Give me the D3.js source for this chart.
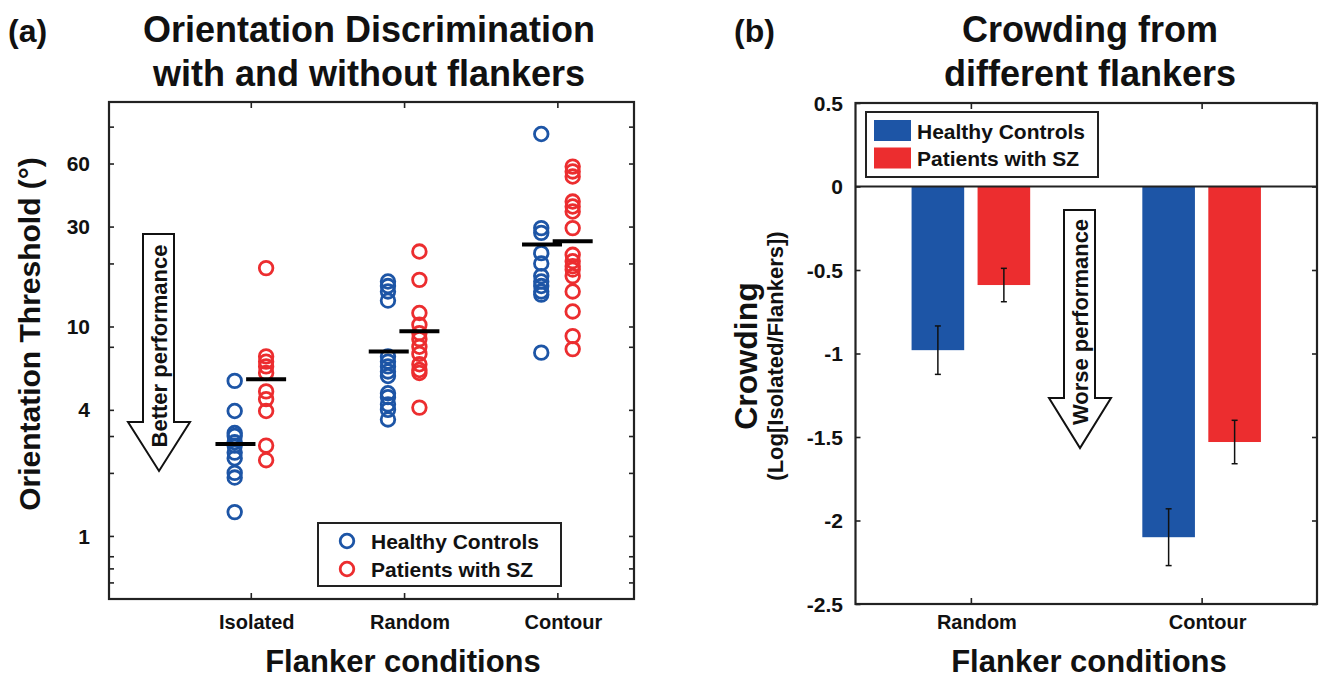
<html>
<meta charset="utf-8">
<head>
<script src="https://d3js.org/d3.v7.min.js"></script>
<style>
html, body {margin:0; padding:0; background:#fff;}
svg {display:block; font-family:"Liberation Sans", Arial, sans-serif;}
</style>
</head>
<body>
<svg class="svg"></svg>
<script>

// ---- panel (a) data: orientation thresholds (deg) ----
const catsA = ["Isolated", "Random", "Contour"]
const hcIsolated = [5.5, 3.95, 3.1, 3.0, 2.8, 2.7, 2.5, 2.35, 2.0, 1.9, 1.3]
const szIsolated = [19.0, 7.2, 6.8, 6.45, 6.0, 4.9, 4.5, 3.95, 2.7, 2.3]
const hcRandom = [16.4, 15.6, 14.7, 13.3, 7.2, 6.8, 6.45, 6.1, 5.8, 4.8, 4.6, 4.25, 4.0, 3.6]
const szRandom = [22.8, 16.7, 11.6, 10.2, 9.3, 8.7, 8.0, 7.4, 6.6, 6.2, 6.0, 4.1]
const hcContour = [83, 29.5, 28, 22.4, 20, 17.4, 16.4, 15.6, 14.7, 14.2, 7.5]
const szContour = [58, 55, 52, 39.5, 37.4, 35.4, 29.5, 22, 20.5, 19.4, 18.7, 17.4, 14.7, 11.8, 9.0, 7.8]
const meanHC = [2.75, 7.6, 24.6]
const meanSZ = [5.6, 9.5, 25.5]
const tickLabelsA = [1, 4, 10, 30, 60]
const tickMarksA = [0.6, 0.7, 0.8, 1, 2, 3, 4, 8, 10, 20, 30, 60, 90]

// ---- panel (b) data: crowding ----
const catsB = ["Random", "Contour"]
const crowdHC = [-0.98, -2.10]
const crowdSZ = [-0.59, -1.53]
const errHC = [0.145, 0.17]
const errSZ = [0.10, 0.13]
const tickLabelsB = [0.5, 0, -0.5, -1, -1.5, -2, -2.5]

const blue = "#1d55a6", red = "#ec2d2f", ink = "#111"

const svg = d3.select("svg").attr("width", 1319).attr("height", 680)

// ================= panel (a) =================
const xA = d3.scaleLinear().domain([0.075, 3.5]).range([109, 634])
const yA = d3.scaleLog().domain([0.5, 118]).range([599, 102])

const gA = svg.append("g")

// frame
gA.append("rect")
  .attr("x", xA.range()[0]).attr("y", yA.range()[1])
  .attr("width", xA.range()[1] - xA.range()[0])
  .attr("height", yA.range()[0] - yA.range()[1])
  .attr("fill", "none").attr("stroke", "#222").attr("stroke-width", 2.2)

// inward ticks on all four sides
function inTicks(g, axis) { g.call(axis); g.select(".domain").remove(); g.selectAll("line").attr("stroke", "#222").attr("stroke-width", 1.6) }
gA.append("g").attr("transform", "translate(" + xA.range()[0] + ",0)")
  .call(inTicks, d3.axisLeft(yA).tickValues(tickMarksA).tickSize(-5).tickFormat(""))
gA.append("g").attr("transform", "translate(" + xA.range()[1] + ",0)")
  .call(inTicks, d3.axisRight(yA).tickValues(tickMarksA).tickSize(-5).tickFormat(""))
gA.append("g").attr("transform", "translate(0," + yA.range()[0] + ")")
  .call(inTicks, d3.axisBottom(xA).tickValues([1, 2, 3]).tickSize(-6).tickFormat(""))
gA.append("g").attr("transform", "translate(0," + yA.range()[1] + ")")
  .call(inTicks, d3.axisTop(xA).tickValues([1, 2, 3]).tickSize(-6).tickFormat(""))

// y tick labels
gA.selectAll(".ylab").data(tickLabelsA).enter().append("text")
  .attr("x", 90).attr("y", d => yA(d)).attr("dy", "0.36em")
  .attr("text-anchor", "end").style("font-size", "21px").style("font-weight", "bold")
  .attr("fill", ink).text(d => d)

// x tick labels
gA.selectAll(".xlab").data(catsA).enter().append("text")
  .attr("x", (d, i) => xA(i + 1) + 6).attr("y", 629)
  .attr("text-anchor", "middle").style("font-size", "20px").style("font-weight", "bold")
  .attr("fill", ink).text(d => d)

// scatter
const groupsA = [
  {vals: hcIsolated, cat: 1, dx: -0.105, color: blue},
  {vals: szIsolated, cat: 1, dx: 0.1, color: red},
  {vals: hcRandom, cat: 2, dx: -0.105, color: blue},
  {vals: szRandom, cat: 2, dx: 0.1, color: red},
  {vals: hcContour, cat: 3, dx: -0.105, color: blue},
  {vals: szContour, cat: 3, dx: 0.1, color: red}
]
groupsA.forEach(g => {
  gA.append("g").selectAll("circle").data(g.vals).enter().append("circle")
    .attr("cx", xA(g.cat + g.dx)).attr("cy", d => yA(d)).attr("r", 6.8)
    .attr("fill", "none").attr("stroke", g.color).attr("stroke-width", 2.8)
})

// mean bars
const meanRows = [{vals: meanHC, dx: -0.1}, {vals: meanSZ, dx: 0.1}]
meanRows.forEach(m => {
  gA.append("g").selectAll("line").data(m.vals).enter().append("line")
    .attr("x1", (d, i) => xA(i + 1 + m.dx) - 20).attr("x2", (d, i) => xA(i + 1 + m.dx) + 20)
    .attr("y1", d => yA(d)).attr("y2", d => yA(d))
    .attr("stroke", "#000").attr("stroke-width", 4)
})

// "Better performance" arrow
gA.append("path")
  .attr("d", "M143,234 L174,234 L174,422 L190,422 L159,471 L128,422 L143,422 Z")
  .attr("fill", "#fff").attr("stroke", "#111").attr("stroke-width", 2)
gA.append("text")
  .attr("transform", "translate(167,346) rotate(-90)")
  .attr("text-anchor", "middle").style("font-size", "22px").style("font-weight", "bold")
  .attr("fill", ink).text("Better performance")

// legend (a)
gA.append("rect").attr("x", 318).attr("y", 523).attr("width", 243).attr("height", 63)
  .attr("fill", "#fff").attr("stroke", "#222").attr("stroke-width", 2)
const legA = [{name: "Healthy Controls", color: blue}, {name: "Patients with SZ", color: red}]
legA.forEach((l, i) => {
  gA.append("circle").attr("cx", 347).attr("cy", 541 + i * 28).attr("r", 6.8)
    .attr("fill", "none").attr("stroke", l.color).attr("stroke-width", 2.8)
  gA.append("text").attr("x", 371).attr("y", 541 + i * 28).attr("dy", "0.36em")
    .style("font-size", "21px").style("font-weight", "bold").attr("fill", ink).text(l.name)
})

// axis titles (a)
gA.append("text").attr("transform", "translate(40,334) rotate(-90)")
  .attr("text-anchor", "middle").style("font-size", "30px").style("font-weight", "bold")
  .attr("fill", ink).text("Orientation Threshold (°)")
gA.append("text").attr("x", 403).attr("y", 672)
  .attr("text-anchor", "middle").style("font-size", "31px").style("font-weight", "bold")
  .attr("fill", ink).text("Flanker conditions")

// titles (a)
svg.append("text").attr("x", 8).attr("y", 42).style("font-size", "32px").style("font-weight", "bold")
  .attr("fill", ink).text("(a)")
svg.append("text").attr("x", 369).attr("y", 42).attr("text-anchor", "middle")
  .style("font-size", "36px").style("font-weight", "bold").attr("fill", ink).text("Orientation Discrimination")
svg.append("text").attr("x", 369).attr("y", 86).attr("text-anchor", "middle")
  .style("font-size", "36px").style("font-weight", "bold").attr("fill", ink).text("with and without flankers")

// ================= panel (b) =================
const xB = d3.scaleLinear().domain([0.5, 2.5]).range([855.5, 1317])
const yB = d3.scaleLinear().domain([-2.5, 0.5]).range([604, 103])
const barW = xB(0.728) - xB(0.5)

const gB = svg.append("g")

// bars
const barRows = [{vals: crowdHC, errs: errHC, dx: -0.143, color: blue},
                 {vals: crowdSZ, errs: errSZ, dx: 0.143, color: red}]
barRows.forEach(b => {
  gB.append("g").selectAll("rect").data(b.vals).enter().append("rect")
    .attr("x", (d, i) => xB(i + 1 + b.dx) - barW / 2).attr("width", barW)
    .attr("y", yB(0)).attr("height", d => yB(d) - yB(0))
    .attr("fill", b.color)
  // error bars
  const eb = gB.append("g").selectAll("g").data(b.vals).enter().append("g")
  eb.append("line")
    .attr("x1", (d, i) => xB(i + 1 + b.dx)).attr("x2", (d, i) => xB(i + 1 + b.dx))
    .attr("y1", (d, i) => yB(d + b.errs[i])).attr("y2", (d, i) => yB(d - b.errs[i]))
    .attr("stroke", "#111").attr("stroke-width", 1.5)
  ;[1, -1].forEach(s => {
    eb.append("line")
      .attr("x1", (d, i) => xB(i + 1 + b.dx) - 3).attr("x2", (d, i) => xB(i + 1 + b.dx) + 3)
      .attr("y1", (d, i) => yB(d + s * b.errs[i])).attr("y2", (d, i) => yB(d + s * b.errs[i]))
      .attr("stroke", "#111").attr("stroke-width", 1.5)
  })
})

// zero line
gB.append("line").attr("x1", xB.range()[0]).attr("x2", xB.range()[1])
  .attr("y1", yB(0)).attr("y2", yB(0)).attr("stroke", "#222").attr("stroke-width", 2)

// frame
gB.append("rect")
  .attr("x", xB.range()[0]).attr("y", yB.range()[1])
  .attr("width", xB.range()[1] - xB.range()[0])
  .attr("height", yB.range()[0] - yB.range()[1])
  .attr("fill", "none").attr("stroke", "#222").attr("stroke-width", 2.2)

gB.append("g").attr("transform", "translate(" + xB.range()[0] + ",0)")
  .call(inTicks, d3.axisLeft(yB).tickValues(tickLabelsB).tickSize(-5).tickFormat(""))
gB.append("g").attr("transform", "translate(" + xB.range()[1] + ",0)")
  .call(inTicks, d3.axisRight(yB).tickValues(tickLabelsB).tickSize(-5).tickFormat(""))
gB.append("g").attr("transform", "translate(0," + yB.range()[0] + ")")
  .call(inTicks, d3.axisBottom(xB).tickValues([1, 2]).tickSize(-6).tickFormat(""))
gB.append("g").attr("transform", "translate(0," + yB.range()[1] + ")")
  .call(inTicks, d3.axisTop(xB).tickValues([1, 2]).tickSize(-6).tickFormat(""))

gB.selectAll(".ylab").data(tickLabelsB).enter().append("text")
  .attr("x", 843).attr("y", d => yB(d)).attr("dy", "0.36em")
  .attr("text-anchor", "end").style("font-size", "21px").style("font-weight", "bold")
  .attr("fill", ink).text(d => d)
gB.selectAll(".xlab").data(catsB).enter().append("text")
  .attr("x", (d, i) => xB(i + 1) + 6).attr("y", 629)
  .attr("text-anchor", "middle").style("font-size", "20px").style("font-weight", "bold")
  .attr("fill", ink).text(d => d)

// legend (b)
gB.append("rect").attr("x", 866).attr("y", 112).attr("width", 232).attr("height", 65)
  .attr("fill", "#fff").attr("stroke", "#222").attr("stroke-width", 2)
const legB = [{name: "Healthy Controls", color: blue}, {name: "Patients with SZ", color: red}]
legB.forEach((l, i) => {
  gB.append("rect").attr("x", 874).attr("y", 120 + i * 27.5).attr("width", 37).attr("height", 21)
    .attr("fill", l.color)
  gB.append("text").attr("x", 917).attr("y", 131 + i * 27.5).attr("dy", "0.36em")
    .style("font-size", "21px").style("font-weight", "bold").attr("fill", ink).text(l.name)
})

// "Worse performance" arrow
gB.append("path")
  .attr("d", "M1064,210 L1095,210 L1095,398 L1111,398 L1080,448 L1049,398 L1064,398 Z")
  .attr("fill", "#fff").attr("stroke", "#111").attr("stroke-width", 2)
gB.append("text")
  .attr("transform", "translate(1088,322) rotate(-90)")
  .attr("text-anchor", "middle").style("font-size", "22px").style("font-weight", "bold")
  .attr("fill", ink).text("Worse performance")

// axis titles (b)
gB.append("text").attr("transform", "translate(757,356) rotate(-90)")
  .attr("text-anchor", "middle").style("font-size", "32px").style("font-weight", "bold")
  .attr("fill", ink).text("Crowding")
gB.append("text").attr("transform", "translate(783,356) rotate(-90)")
  .attr("text-anchor", "middle").style("font-size", "22px").style("font-weight", "bold")
  .attr("fill", ink).text("(Log[Isolated/Flankers])")
gB.append("text").attr("x", 1089).attr("y", 672)
  .attr("text-anchor", "middle").style("font-size", "31px").style("font-weight", "bold")
  .attr("fill", ink).text("Flanker conditions")

svg.append("text").attr("x", 734).attr("y", 42).style("font-size", "32px").style("font-weight", "bold")
  .attr("fill", ink).text("(b)")
svg.append("text").attr("x", 1090).attr("y", 42).attr("text-anchor", "middle")
  .style("font-size", "36px").style("font-weight", "bold").attr("fill", ink).text("Crowding from")
svg.append("text").attr("x", 1090).attr("y", 86).attr("text-anchor", "middle")
  .style("font-size", "36px").style("font-weight", "bold").attr("fill", ink).text("different flankers")

</script>
</body>
</html>
